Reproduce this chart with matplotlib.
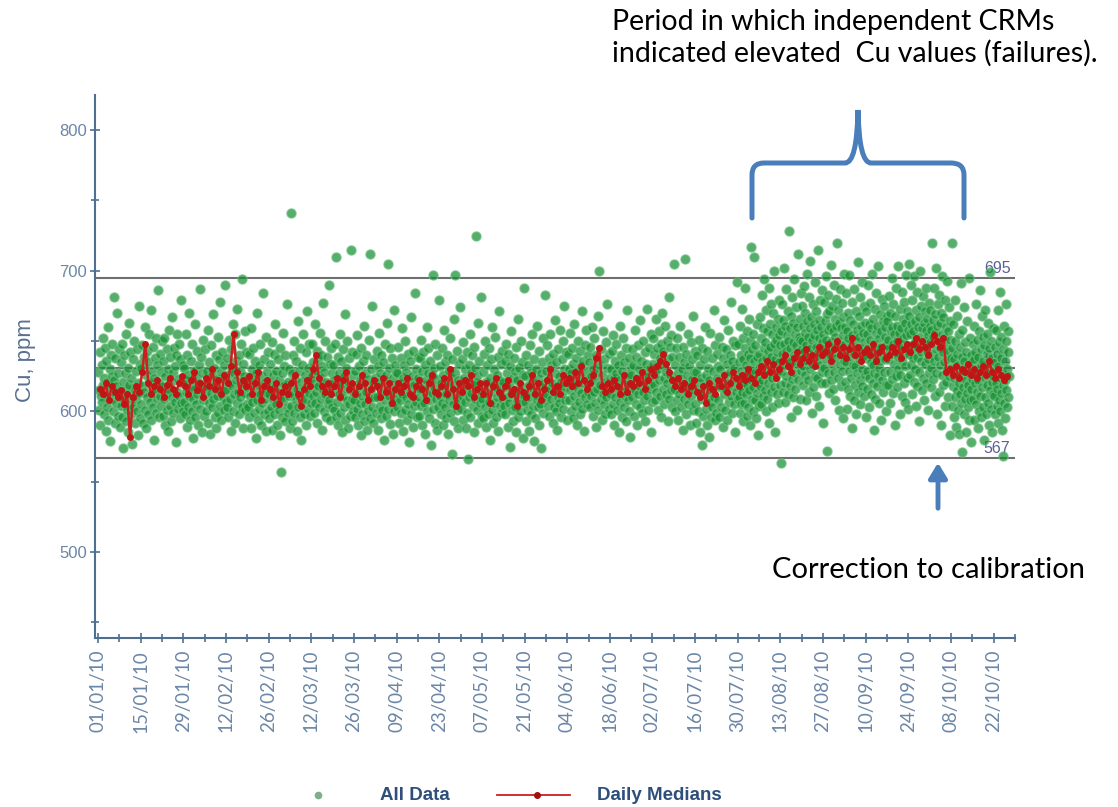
import matplotlib
matplotlib.use('Agg')
import matplotlib.pyplot as plt
from matplotlib.path import Path
from matplotlib.patches import PathPatch
from matplotlib.ticker import MultipleLocator, FuncFormatter
import datetime as dt

plt.rcParams['font.family'] = ['Lato', 'DejaVu Sans']

start_date = dt.date(2010, 1, 1)

# Cu readings (ppm), one string per week starting 01/01/10
weekly_points = [
    "628 601 615 642 590 611 633 607 652 619 598 624 645 612 586 636 603 621 660 594 617 630 579 640 609 625 648 600 614 681 622 592 638 606 618 670 597 627 610 644",
    "612 589 635 604 648 596 621 574 640 608 627 593 655 616 601 631 585 619 663 606 642 598 624 611 577 637 603 650 615 592 629 609 644 600 620 583 675 613 634 595",
    "631 605 647 618 592 639 614 660 601 626 588 643 610 635 598 655 621 607 672 594 629 613 646 603 624 580 638 616 652 599 633 609 686 620 596 641 611 628 604 650",
    "618 597 636 609 652 590 625 613 644 601 630 586 658 615 604 639 621 593 667 610 628 599 645 607 632 578 640 614 655 602 623 611 648 595 637 606 679 620 600 633",
    "607 631 598 622 655 614 589 640 603 626 611 670 594 618 636 600 648 609 581 629 616 662 596 624 605 643 612 590 633 620 687 602 615 639 585 627 608 651 619 597",
    "644 612 600 629 617 592 658 606 635 621 584 613 647 603 626 669 609 631 596 619 640 588 623 611 653 599 637 615 604 678 628 594 642 610 622 601 633 616 690 607",
    "615 638 603 626 596 651 620 609 644 586 631 618 662 600 627 612 655 592 636 622 606 673 614 640 598 629 610 648 619 694 603 634 588 625 613 657 601 642 617 605",
    "603 624 641 596 618 611 659 588 630 607 622 645 599 614 636 581 627 608 670 594 619 633 602 648 612 590 625 606 684 616 598 637 609 621 653 586 628 613 600 642",
    "612 595 634 620 603 649 587 626 609 641 598 617 662 605 629 590 614 637 601 622 583 645 610 557 627 596 656 608 619 632 593 640 615 603 676 621 599 630 611 588",
    "618 741 604 627 593 640 612 650 599 623 608 636 586 616 664 603 629 611 645 596 621 580 633 607 655 614 598 626 609 642 590 619 671 602 631 613 648 597 624 606",
    "626 648 611 635 599 620 662 606 629 614 643 592 637 618 603 656 624 609 640 587 632 615 677 600 628 612 650 596 621 639 605 617 690 608 634 594 645 619 603 627",
    "614 633 601 622 648 596 710 618 607 639 590 627 612 655 599 620 636 585 611 644 603 625 669 594 616 631 608 650 588 621 605 638 597 615 715 609 642 600 626 613",
    "608 629 596 641 613 602 654 619 590 632 606 622 583 645 611 598 636 617 661 593 627 605 640 614 587 623 600 651 609 712 595 630 616 603 675 620 592 637 610 624",
    "621 599 643 610 632 587 618 656 604 627 595 640 613 601 635 622 580 648 608 626 597 663 615 705 602 631 611 591 645 619 606 638 584 624 672 600 614 633 609 628",
    "603 627 615 646 592 620 608 638 599 659 612 624 586 633 618 601 650 610 628 594 641 605 621 578 636 614 667 598 625 611 643 589 619 604 684 630 607 616 596 639",
    "624 610 597 638 616 651 604 629 590 642 619 606 633 584 622 612 660 600 627 645 595 618 608 636 576 626 613 697 602 631 617 592 648 609 623 587 640 614 603 679",
    "611 632 598 620 645 606 626 590 617 658 603 635 612 595 640 621 584 629 608 652 599 624 614 570 637 605 619 666 593 627 697 610 643 601 622 588 634 615 607 674",
    "618 602 637 611 594 649 624 607 630 588 615 642 599 621 566 633 610 655 596 627 613 640 604 619 585 646 609 631 620 725 601 625 663 592 616 636 606 612 681 597",
    "609 628 595 641 616 603 650 621 589 633 612 598 645 607 624 580 637 614 660 601 619 592 630 606 653 617 596 626 610 639 586 622 671 604 613 634 599 618 643 608",
    "621 604 636 598 617 648 610 627 589 641 606 619 575 632 612 657 601 624 593 638 615 603 629 585 646 608 622 666 596 631 613 600 650 618 607 635 581 626 611 688",
    "607 625 593 640 614 601 633 619 586 647 610 628 598 621 655 604 616 579 637 612 595 630 608 661 603 623 590 643 617 605 627 574 635 611 599 652 620 609 683 615",
    "629 612 647 604 622 638 597 616 655 609 633 620 592 641 614 603 627 665 600 635 618 587 644 610 625 606 658 621 596 637 613 650 602 630 675 617 608 642 623 594",
    "623 641 608 630 615 656 600 627 618 645 595 634 611 662 621 604 638 590 629 616 650 607 625 643 598 632 613 671 602 636 620 586 647 610 628 658 605 622 640 614",
    "618 635 603 646 625 611 660 597 630 614 652 606 622 640 589 628 616 668 601 633 700 619 609 644 594 626 612 657 605 637 621 598 649 610 631 676 615 602 641 624",
    "612 630 598 643 619 605 654 624 590 636 610 627 648 601 616 633 585 622 661 607 640 614 596 629 618 652 603 635 611 593 645 620 672 608 626 600 638 615 582 631",
    "626 644 610 633 597 620 658 615 605 639 624 590 647 612 630 618 665 603 636 622 599 650 614 628 608 642 593 634 619 673 611 625 601 645 616 631 585 655 621 607",
    "634 652 619 641 608 627 666 614 645 630 601 657 622 638 611 648 596 633 670 616 643 624 605 661 628 612 650 620 593 637 681 609 646 626 615 654 603 639 622 705",
    "616 633 600 645 621 608 652 627 594 639 612 624 661 603 630 617 587 646 609 635 620 708 598 641 614 626 655 605 632 618 590 649 611 637 623 601 668 615 628 643",
    "605 628 592 640 614 600 651 620 585 633 609 624 576 645 612 597 637 618 660 602 626 590 643 611 631 582 622 607 656 615 596 638 603 629 672 610 594 647 619 599",
    "624 641 608 632 596 653 617 630 603 646 621 589 638 612 665 626 601 644 615 634 594 658 620 607 640 628 611 678 599 636 618 650 605 631 585 647 614 623 692 609",
    "624 648 610 635 599 661 618 640 605 629 673 614 652 593 637 621 606 645 626 688 612 633 597 657 619 641 603 627 666 615 650 590 638 622 717 609 644 630 600 655 617 636 710 608 628 647 595 623 662 613 639 620 583 631 604",
    "641 618 667 629 652 605 636 683 622 659 611 645 630 694 615 649 600 638 672 626 657 609 643 620 688 633 592 662 646 614 676 639 624 655 603 670 631 648 617 700 637 585 660 625 651 612 642 666 628 606 654 635 679 619 647",
    "563 657 629 676 641 614 665 633 702 648 620 661 607 643 687 625 654 638 671 612 650 632 728 618 659 645 596 668 636 623 681 649 610 663 640 694 627 655 616 647 674 634 660 601 642 712 622 653 637 666 609 651 629 684 644",
    "650 675 632 661 619 689 643 656 626 670 608 647 698 636 664 622 653 641 681 614 659 630 707 645 667 599 651 634 676 617 662 639 654 625 692 646 611 671 637 658 624 715 642 665 604 652 633 679 620 660 644 686 628 649 592",
    "655 631 678 644 620 664 651 696 637 669 572 658 627 683 646 613 671 640 660 622 704 649 634 675 616 657 642 690 628 666 653 608 680 638 661 645 720 624 672 650 601 663 633 687 647 618 659 641 677 629 667 595 654 636 698",
    "660 621 648 684 635 602 657 643 670 616 652 629 697 639 611 665 646 624 678 588 654 633 662 608 641 687 619 650 632 671 598 645 658 627 706 614 668 637 653 622 681 605 644 661 630 692 618 656 640 675 611 649 626 663 596",
    "638 671 616 655 629 690 645 603 662 624 651 677 635 612 659 642 698 620 666 633 587 648 627 673 609 656 639 684 618 661 644 625 703 631 652 606 669 636 657 594 646 680 622 664 641 614 675 628 653 637 660 600 647 619 668",
    "664 637 651 619 682 645 628 670 606 657 641 695 623 660 648 613 676 634 655 590 668 642 625 688 650 617 661 639 703 630 656 644 598 673 626 659 647 611 685 636 666 652 620 678 641 607 663 632 697 654 624 671 645 602 658",
    "705 641 668 626 655 690 633 662 647 612 679 638 657 621 696 644 664 630 604 672 651 618 685 639 660 645 593 667 628 653 700 636 675 642 615 659 648 682 624 663 608 650 671 634 658 620 688 643 666 601 654 637 677 627 661",
    "649 672 631 658 617 720 640 665 623 653 688 636 669 611 656 644 702 627 661 598 676 639 650 614 683 633 663 645 590 670 626 655 696 642 619 667 635 652 604 679 647 621 660 637 693 630 657 610 674 643 625 664 583 651 638",
    "631 720 604 645 618 662 596 637 624 679 610 650 589 628 641 615 668 601 633 655 620 584 646 612 691 625 606 639 571 658 617 629 598 674 636 609 649 622 585 642 613 664 603 632 619 695 594 627 652 608 640 616 578 635 623",
    "626 648 609 637 594 661 620 642 605 630 676 614 651 588 639 622 600 657 628 686 611 644 596 633 668 617 653 603 636 580 647 624 610 672 631 598 655 619 641 606 663 627 590 645 615 634 699 602 650 621 585 638 612 659 625",
    "629 611 646 598 635 620 658 604 641 616 672 592 632 649 608 624 685 600 638 613 653 587 627 644 568 619 661 606 636 622 595 650 615 676 603 630 642 610 657 625",
]

# daily medians (ppm), 01/01/10 onwards
daily_medians = [
    616, 612, 620, 608, 618, 614, 610,
    615, 605, 612, 582, 610, 618, 614,
    628, 648, 620, 612, 618, 622, 616,
    610, 619, 624, 616, 612, 620, 625,
    618, 612, 622, 628, 615, 620, 610,
    624, 618, 630, 616, 622, 612, 626,
    620, 632, 655, 628, 614, 622, 618,
    625, 612, 620, 628, 608, 618, 622,
    616, 610, 620, 605, 614, 618, 612,
    620, 626, 612, 604, 616, 622, 618,
    630, 640, 624, 618, 614, 620, 612,
    618, 624, 610, 622, 628, 616, 620,
    612, 618, 626, 620, 608, 616, 622,
    618, 610, 624, 614, 620, 606, 616,
    620, 614, 618, 624, 612, 610, 618,
    622, 616, 608, 620, 626, 614, 612,
    618, 624, 612, 630, 616, 604, 620,
    614, 622, 618, 626, 610, 616, 620,
    612, 620, 606, 618, 624, 614, 610,
    618, 622, 612, 616, 604, 620, 614,
    610, 618, 626, 612, 620, 608, 616,
    622, 630, 614, 618, 612, 626, 620,
    624, 618, 628, 620, 632, 622, 616,
    620, 626, 638, 645, 618, 614, 620,
    616, 622, 618, 612, 626, 614, 620,
    618, 624, 620, 628, 616, 622, 630,
    626, 632, 636, 641, 634, 628, 622,
    618, 624, 616, 620, 612, 618, 622,
    614, 610, 618, 606, 620, 616, 612,
    622, 618, 626, 614, 620, 628, 624,
    618, 626, 622, 630, 624, 620, 628,
    632, 626, 636, 628, 634, 624, 630,
    636, 640, 632, 628, 638, 642, 634,
    638, 644, 636, 640, 632, 646, 640,
    642, 648, 636, 644, 650, 640, 646,
    638, 644, 652, 640, 646, 636, 642,
    644, 640, 648, 636, 642, 646, 638,
    640, 646, 642, 650, 638, 644, 648,
    642, 648, 652, 644, 650, 646, 640,
    648, 654, 650, 646, 652, 628, 630,
    626, 632, 624, 630, 628, 634, 626,
    630, 624, 628, 632, 626, 636, 628,
    624, 630, 626, 622, 625,
]

limit_labels = ["695", "631", "567"]
limit_values = [695, 631, 567]

axis_blue = '#4f6f90'
tick_blue = '#6b86a6'
note_blue = '#4a7ebb'

fig = plt.figure(figsize=(11.18, 8.07), dpi=100)
ax = fig.add_axes([95 / 1118, 1 - 638 / 807, 920 / 1118, 543 / 807])

# all data points spread across the days of their week
xs, ys = [], []
for w, s in enumerate(weekly_points):
    vals = [float(v) for v in s.split()]
    ndays = 7 if w < len(weekly_points) - 1 else 5
    for i, v in enumerate(vals):
        xs.append(7 * w + ndays * (i + 0.5) / len(vals))
        ys.append(v)

for val, lab in zip(limit_values, limit_labels):
    ax.axhline(val, color='#6e6e6e', lw=1.5, zorder=1)
    ax.text(299.5, val + 1.5, lab, ha='right', va='bottom', fontsize=11.5,
            color='#5a5f9a', family=['Liberation Sans', 'DejaVu Sans'], zorder=1)

ax.scatter(xs, ys, s=44, facecolor='#168f33', edgecolor='#6cc27e',
           linewidths=0.9, alpha=0.72, zorder=2)

days = [d + 0.5 for d in range(len(daily_medians))]
ax.plot(days, daily_medians, color='#cc2020', lw=1.8, marker='o', ms=4,
        mfc='#c01515', mec='#c01515', zorder=3)

ax.set_xlim(-1, 301)
ax.set_ylim(438.9, 824.9)

for side in ['top', 'right']:
    ax.spines[side].set_visible(False)
for side in ['left', 'bottom']:
    ax.spines[side].set_color(axis_blue)
    ax.spines[side].set_linewidth(1.5)

ax.yaxis.set_major_locator(MultipleLocator(100))
ax.yaxis.set_minor_locator(MultipleLocator(50))
ax.xaxis.set_major_locator(MultipleLocator(14))
ax.xaxis.set_minor_locator(MultipleLocator(7))
ax.xaxis.set_major_formatter(FuncFormatter(
    lambda x, p: (start_date + dt.timedelta(days=int(round(x)))).strftime('%d/%m/%y')))
ax.tick_params(axis='both', which='both', direction='inout', color=axis_blue, width=1.2)
ax.tick_params(axis='both', which='major', length=7)
ax.tick_params(axis='both', which='minor', length=6)
ax.tick_params(axis='y', labelsize=12, labelcolor=tick_blue, pad=2)
ax.tick_params(axis='x', labelsize=13.5, labelcolor=tick_blue, labelrotation=90, pad=5)
for t in ax.get_yticklabels():
    t.set_family(['Liberation Sans Narrow', 'Liberation Sans', 'DejaVu Sans'])

fig.text(25 / 1118, 1 - 360 / 807, "Cu, ppm", rotation=90, ha='center', va='center',
         fontsize=16, color='#5a7090', family=['Liberation Sans', 'DejaVu Sans'])

# overlay in pixel coordinates for notes and legend
ov = fig.add_axes([0, 0, 1, 1], facecolor='none')
ov.set_xlim(0, 1118)
ov.set_ylim(807, 0)
ov.axis('off')

ov.text(612, 9, "Period in which independent CRMs\nindicated elevated  Cu values (failures).",
        ha='left', va='top', fontsize=20.5, linespacing=1.2, color='black')
ov.text(772, 570, "Correction to calibration", ha='left', va='center', fontsize=21, color='black')

brace = Path(
    [(752, 218), (752, 175), (752, 163), (764, 163), (845, 163), (857, 163), (858, 110),
     (859, 163), (871, 163), (951, 163), (964, 163), (964, 175), (964, 218)],
    [Path.MOVETO, Path.LINETO, Path.CURVE3, Path.CURVE3, Path.LINETO, Path.CURVE3, Path.CURVE3,
     Path.CURVE3, Path.CURVE3, Path.LINETO, Path.CURVE3, Path.CURVE3, Path.LINETO])
ov.add_patch(PathPatch(brace, fill=False, edgecolor=note_blue, lw=3.6, capstyle='round'))

ov.annotate('', xy=(938, 460), xytext=(938, 511),
            arrowprops=dict(arrowstyle='-|>,head_width=0.55,head_length=0.9',
                            lw=3.5, color=note_blue))

# legend
ov.plot([318], [795], 'o', ms=4.5, color='#7fae8c')
ov.text(380, 795, "All Data", ha='left', va='center', fontsize=13.5, fontweight='bold',
        color='#2e4f7a', family=['Liberation Sans Narrow', 'Liberation Sans', 'DejaVu Sans'])
ov.plot([497, 570], [795, 795], color='#cc2020', lw=1.3)
ov.plot([537], [795], 'o', ms=4, color='#a01010')
ov.text(597, 795, "Daily Medians", ha='left', va='center', fontsize=13.5, fontweight='bold',
        color='#2e4f7a', family=['Liberation Sans Narrow', 'Liberation Sans', 'DejaVu Sans'])

fig.savefig('out.png', dpi=100)
